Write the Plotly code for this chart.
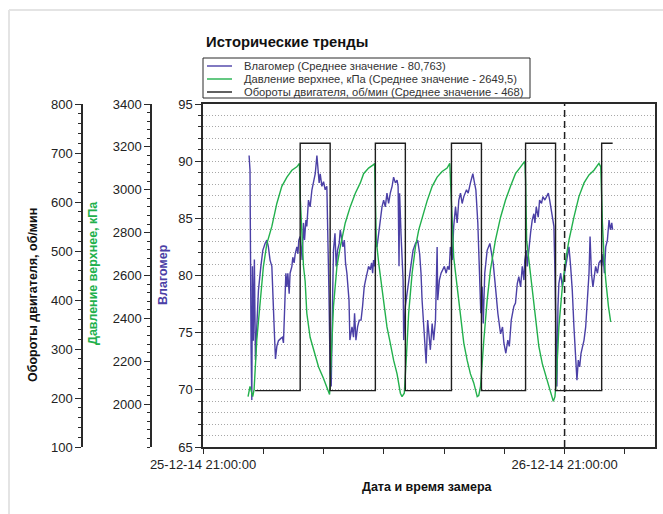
import pandas as pd
import plotly.graph_objects as go

# ---------------- data ----------------
BASE = pd.Timestamp("2014-12-25 21:00:00")   # start of the x range
X_SPAN_H = 30                                 # hours shown on x axis
MARK_H = 24                                   # dashed marker: 26-12-14 21:00:00

# Влагомер (hours from BASE, value)
moist_h = [3.06, 3.12, 3.19, 3.24, 3.28, 3.34, 3.41, 3.48, 3.57, 3.68, 3.84, 3.97, 4.12, 4.24, 4.34,
           4.45, 4.57, 4.63, 4.67, 4.74, 4.81, 4.90, 5.01, 5.17, 5.27, 5.34, 5.41, 5.50, 5.57, 5.63,
           5.72, 5.78, 5.90, 5.96, 6.05, 6.12, 6.23, 6.30, 6.36, 6.45, 6.52, 6.58, 6.67, 6.74, 6.83,
           6.89, 7.00, 7.11, 7.23, 7.33, 7.45, 7.56, 7.63, 7.71, 7.78, 7.89, 8.00, 8.11, 8.22, 8.29,
           8.36, 8.44, 8.51, 8.61, 8.66, 8.76, 8.84, 8.93, 9.04, 9.11, 9.20, 9.29, 9.38, 9.46, 9.55,
           9.62, 9.69, 9.75, 9.82, 9.89, 9.99, 10.06, 10.15, 10.26, 10.37, 10.49, 10.59, 10.70, 10.79,
           10.88, 10.99, 11.10, 11.19, 11.26, 11.32, 11.39, 11.46, 11.55, 11.66, 11.77, 11.88, 11.99,
           12.10, 12.21, 12.32, 12.43, 12.55, 12.65, 12.77, 12.88, 12.95, 13.01, 13.05, 13.14, 13.21,
           13.28, 13.32, 13.43, 13.54, 13.68, 13.81, 13.94, 14.10, 14.25, 14.38, 14.47, 14.54, 14.65,
           14.81, 14.91, 15.09, 15.21, 15.31, 15.43, 15.54, 15.58, 15.69, 15.80, 15.91, 16.02, 16.14,
           16.24, 16.34, 16.42, 16.54, 16.64, 16.76, 16.87, 16.98, 17.09, 17.20, 17.31, 17.49, 17.60,
           17.75, 17.91, 18.02, 18.11, 18.24, 18.35, 18.44, 18.53, 18.60, 18.70, 18.86, 19.04, 19.17,
           19.26, 19.41, 19.57, 19.75, 19.88, 19.97, 20.10, 20.23, 20.33, 20.46, 20.63, 20.74, 20.86,
           20.96, 21.08, 21.19, 21.30, 21.36, 21.46, 21.52, 21.63, 21.74, 21.85, 21.96, 22.03, 22.12,
           22.25, 22.34, 22.47, 22.56, 22.69, 22.81, 22.92, 23.01, 23.09, 23.18, 23.29, 23.36, 23.40,
           23.45, 23.49, 23.56, 23.62, 23.74, 23.85, 23.96, 24.07, 24.18, 24.29, 24.40, 24.51, 24.62,
           24.73, 24.82, 24.91, 25.00, 25.09, 25.18, 25.29, 25.40, 25.51, 25.62, 25.69, 25.78, 25.88,
           25.98, 26.06, 26.18, 26.28, 26.40, 26.46, 26.55, 26.64, 26.73, 26.84, 26.95, 27.04, 27.13,
           27.19]
moist = [90.5, 89.2, 73.8, 69.1, 80.8, 74.3, 81.4, 72.6, 75.5, 78.7, 80.8, 82.2, 82.8, 83.1, 82.5,
         81.35, 80.8, 79.3, 77.3, 74.9, 72.7, 73.8, 74.3, 74.5, 74.6, 74.1, 77.3, 80.2, 79.0, 80.2,
         78.4, 80.2, 80.8, 81.6, 81.1, 81.9, 82.5, 81.9, 83.1, 83.4, 82.5, 81.35, 84.6, 83.1, 84.85,
         84.3, 86.6, 86.0, 87.5, 88.1, 88.9, 90.5, 89.2, 88.1, 88.9, 87.8, 88.2, 87.5, 87.8, 80.8,
         78.4, 71.4, 70.3, 78.7, 82.2, 83.7, 80.8, 82.2, 82.8, 84.0, 83.4, 82.5, 83.1, 81.1, 80.2,
         79.0, 77.85, 74.35, 74.9, 75.5, 74.6, 76.7, 74.35, 75.5, 76.1, 76.1, 77.3, 79.0, 79.6,
         80.2, 80.8, 80.5, 81.1, 80.2, 81.35, 80.8, 82.8, 82.5, 83.7, 84.85, 86.0, 86.6,
         86.0, 87.2, 86.3, 87.2, 87.8, 88.6, 88.1, 88.35, 87.8, 80.8, 87.2, 83.7, 81.6,
         79.6, 74.35, 77.3, 78.4, 79.6, 81.1, 82.2, 82.8, 83.1, 81.9, 80.2, 77.85, 75.5,
         72.3, 76.1, 73.5, 75.8, 74.35, 76.1, 82.5, 77.85, 79.6, 80.2, 80.5, 80.8, 80.2,
         80.8, 80.5, 82.5, 81.35, 84.3, 86.0, 84.6, 86.6, 87.2, 86.3, 86.9, 87.5, 87.2,
         88.1, 88.9, 88.1, 87.5, 84.6, 80.8, 76.7, 79.0, 75.8, 80.2, 82.2, 82.8, 81.9,
         81.1, 79.0, 76.7, 74.9, 75.5, 74.1, 73.2, 74.35, 73.8, 76.1, 77.3, 77.6, 79.3,
         79.9, 79.0, 80.8, 79.6, 81.35, 82.2, 80.8, 82.5, 83.7, 84.85, 85.4, 84.6, 86.0,
         85.1, 86.6, 86.3, 86.9, 86.6, 87.0, 87.2, 86.6, 86.0, 85.1, 84.3, 80.2, 75.8,
         71.4, 70.3, 77.3, 79.3, 80.2, 79.0, 79.9, 80.8, 81.9, 82.5, 80.8, 78.7, 75.5,
         73.2, 70.85, 72.6, 72.0, 73.2, 73.8, 74.35, 75.5, 77.85, 80.2, 83.4, 80.2, 79.0,
         79.9, 80.8, 80.2, 81.1, 81.35, 80.8, 81.9, 80.2, 82.5, 83.1, 84.85, 84.0, 84.6,
         84.0]

# Давление верхнее, кПа
press_h = [2.99, 3.12, 3.30, 3.39, 3.57, 3.79, 4.01, 4.24, 4.57, 4.90, 5.23, 5.57, 5.90, 6.23, 6.40,
           6.45, 6.56, 6.67, 6.78, 6.89, 7.11, 7.33, 7.67, 8.00, 8.26, 8.40,
           8.44, 8.56, 8.66, 8.89, 9.11, 9.44, 9.77, 10.11, 10.44, 10.66, 10.99, 11.32, 11.39,
           11.44, 11.50, 11.66, 11.77, 11.99, 12.21, 12.43, 12.65, 12.88, 13.10, 13.21, 13.36,
           13.50, 13.65, 13.88, 14.10, 14.32, 14.54, 14.87, 15.21, 15.54, 15.87, 16.20, 16.38,
           16.47, 16.54, 16.64, 16.87, 17.09, 17.31, 17.53, 17.75, 17.97, 18.20, 18.30, 18.42,
           18.64, 18.86, 19.08, 19.41, 19.75, 20.08, 20.41, 20.74, 21.08, 21.36,
           21.41, 21.48, 21.63, 21.85, 22.07, 22.29, 22.52, 22.85, 23.07, 23.25, 23.36, 23.45,
           23.62, 23.85, 24.07, 24.29, 24.62, 24.95, 25.29, 25.62, 25.95, 26.28, 26.40,
           26.44, 26.51, 26.62, 26.73, 26.91, 27.06]
press = [2035, 2083, 2035, 2067, 2299, 2485, 2643, 2749, 2829, 2936, 3016, 3059, 3091, 3107, 3123,
         2968, 2765, 2643, 2573, 2424, 2312, 2253, 2173, 2120, 2067, 2045,
         2099, 2269, 2456, 2643, 2733, 2845, 2920, 2984, 3032, 3075, 3101, 3117, 3123,
         2952, 2765, 2659, 2595, 2485, 2360, 2285, 2205, 2141, 2051, 2035, 2051,
         2221, 2424, 2611, 2733, 2813, 2872, 2947, 3016, 3059, 3085, 3101, 3123,
         2968, 2829, 2685, 2547, 2424, 2285, 2205, 2141, 2099, 2035, 2040, 2083,
         2299, 2485, 2627, 2765, 2872, 2952, 3016, 3075, 3107, 3133,
         3045, 2765, 2672, 2531, 2392, 2269, 2189, 2112, 2067, 2013, 2035, 2112,
         2360, 2547, 2672, 2765, 2872, 2968, 3032, 3069, 3091, 3123, 3107,
         3000, 2845, 2685, 2579, 2456, 2384]

# Обороты двигателя, об/мин (step changes)
rpm_h = [3.46, 6.45, 8.44, 11.44, 13.43, 16.49, 18.48, 21.41, 23.40, 26.46, 27.19]
rpm = [215, 720, 215, 720, 215, 720, 215, 720, 215, 720, 720]

legend_texts = ["Влагомер (Среднее значение - 80,763)",
                "Давление верхнее, кПа (Среднее значение - 2649,5)",
                "Обороты двигателя, об/мин (Среднее значение - 468)"]
title_text = "Исторические тренды"
x_title = "Дата и время замера"
y_titles = ["Влагомер", "Давление верхнее, кПа", "Обороты двигателя, об/мин"]

moist_range = [65, 95]
press_range = [1800, 3400]
press_ticks = [2000, 2200, 2400, 2600, 2800, 3000, 3200, 3400]
rpm_range = [100, 800]

# ---------------- styling ----------------
C_BLUE = "#4b40a6"
C_GREEN = "#22b04c"
C_BLACK = "#1e1e1e"
C_AX = "#2a2a2a"
FONT = "Liberation Sans, Arial, sans-serif"
GRID = "#a8a8a8"

W, H = 663, 514
ML, MR, MT, MB = 0, 8, 104, 67
PW = W - ML - MR          # paper width in px
PH = H - MT - MB          # paper height in px
PLOT_L = 203


def px(xp):
    return (xp - ML) / PW


def py(yp):
    return (H - MB - yp) / PH


def ts(hours):
    return BASE + pd.to_timedelta(pd.Series(hours), unit="h")


fig = go.Figure()

fig.add_trace(go.Scatter(x=ts(moist_h), y=moist, mode="lines", yaxis="y",
                         line=dict(color=C_BLUE, width=1.4), showlegend=False, name=legend_texts[0]))
fig.add_trace(go.Scatter(x=ts(press_h), y=press, mode="lines", yaxis="y2",
                         line=dict(color=C_GREEN, width=1.4), showlegend=False, name=legend_texts[1]))
fig.add_trace(go.Scatter(x=ts(rpm_h), y=rpm, mode="lines", yaxis="y3", line_shape="hv",
                         line=dict(color=C_BLACK, width=1.4), showlegend=False, name=legend_texts[2]))

x0 = BASE
x1 = BASE + pd.Timedelta(hours=X_SPAN_H)
tickfont = dict(family=FONT, size=13, color="#222222")

fig.update_layout(
    width=W, height=H,
    margin=dict(l=ML, r=MR, t=MT, b=MB, pad=0, autoexpand=False),
    paper_bgcolor="white", plot_bgcolor="white",
    font=dict(family=FONT, color="#222222"),
    showlegend=False,
    xaxis=dict(
        type="date", domain=[px(PLOT_L), 1], range=[x0, x1], automargin=False,
        tick0=x0, dtick=24 * 3600 * 1000, tickformat="%d-%m-%y %H:%M:%S",
        ticks="outside", ticklen=5, tickwidth=1.2, tickcolor=C_AX,
        minor=dict(tick0=x0, dtick=4 * 3600 * 1000, ticks="outside", ticklen=5,
                   tickwidth=1.2, tickcolor=C_AX, showgrid=False),
        showline=True, linecolor=C_AX, linewidth=1.5, mirror=True,
        showgrid=False, zeroline=False, tickfont=tickfont, anchor="y",
    ),
    xaxis2=dict(
        type="date", overlaying="x", side="top", anchor="y", range=[x0, x1], automargin=False,
        tick0=x0, dtick=4 * 3600 * 1000, ticks="inside", ticklen=5, tickwidth=1.2,
        tickcolor=C_AX, showticklabels=False, showgrid=False, showline=False, zeroline=False,
    ),
    yaxis=dict(
        domain=[0, 1], range=moist_range, dtick=5, anchor="x", side="left", automargin=False,
        ticks="outside", ticklen=6, tickwidth=1.2, tickcolor=C_AX,
        showgrid=True, gridcolor=GRID, griddash="1px,2px", gridwidth=1,
        minor=dict(dtick=1, ticks="outside", ticklen=3, tickwidth=1, tickcolor=C_AX,
                   showgrid=True, gridcolor=GRID, griddash="1px,2px", gridwidth=1),
        showline=True, linecolor=C_AX, linewidth=1.5, mirror=True,
        zeroline=False, tickfont=tickfont,
    ),
    yaxis2=dict(
        overlaying="y", anchor="free", position=px(151), side="left", range=press_range,
        automargin=False, autoshift=False,
        tickmode="array", tickvals=press_ticks,
        ticks="outside", ticklen=6, tickwidth=1.2, tickcolor=C_AX,
        minor=dict(tickmode="linear", tick0=press_range[0], dtick=40, ticks="outside",
                   ticklen=3, tickwidth=1, tickcolor=C_AX, showgrid=False),
        showline=True, linecolor=C_AX, linewidth=1.5, showgrid=False, zeroline=False,
        tickfont=tickfont,
    ),
    yaxis3=dict(
        overlaying="y", anchor="free", position=px(82), side="left", range=rpm_range,
        automargin=False, autoshift=False,
        dtick=100, ticks="outside", ticklen=6, tickwidth=1.2, tickcolor=C_AX,
        minor=dict(dtick=20, ticks="outside", ticklen=3, tickwidth=1, tickcolor=C_AX,
                   showgrid=False),
        showline=True, linecolor=C_AX, linewidth=1.5, showgrid=False, zeroline=False,
        tickfont=tickfont,
    ),
)

shapes = []
annotations = []

# dashed marker line at 26-12-14 21:00:00
shapes.append(dict(type="line", xref="x", yref="paper",
                   x0=BASE + pd.Timedelta(hours=MARK_H), x1=BASE + pd.Timedelta(hours=MARK_H),
                   y0=0, y1=1, line=dict(color=C_BLACK, width=1.5, dash="7px,4px")))

# page frame (light grey)
shapes.append(dict(type="line", xref="paper", yref="paper", x0=px(9), x1=px(9),
                   y0=py(10), y1=py(H), line=dict(color="#e4e4e4", width=2)))
shapes.append(dict(type="line", xref="paper", yref="paper", x0=px(9), x1=px(W),
                   y0=py(10), y1=py(10), line=dict(color="#e4e4e4", width=2)))

# manual legend
shapes.append(dict(type="rect", xref="paper", yref="paper", x0=px(203), x1=px(530),
                   y0=py(98), y1=py(58), line=dict(color=C_AX, width=1), fillcolor="white"))
leg_rows = [66, 79, 92]
leg_cols = [C_BLUE, C_GREEN, C_BLACK]
for row, col, txt in zip(leg_rows, leg_cols, legend_texts):
    shapes.append(dict(type="line", xref="paper", yref="paper", x0=px(207), x1=px(232),
                       y0=py(row), y1=py(row), line=dict(color=col, width=1.4)))
    annotations.append(dict(xref="paper", yref="paper", x=px(242), y=py(row), text=txt,
                            showarrow=False, xanchor="left", yanchor="middle",
                            font=dict(family=FONT, size=11.2, color="#333333")))

# title
annotations.append(dict(xref="paper", yref="paper", x=px(204), y=py(42), text="<b>%s</b>" % title_text,
                        showarrow=False, xanchor="left", yanchor="middle",
                        font=dict(family=FONT, size=14.8, color="#111111")))
# axis titles
annotations.append(dict(xref="paper", yref="paper", x=px(428), y=py(487), text="<b>%s</b>" % x_title,
                        showarrow=False, xanchor="center", yanchor="middle",
                        font=dict(family=FONT, size=12.5, color="#111111")))
annotations.append(dict(xref="paper", yref="paper", x=px(163), y=py(275), text="<b>%s</b>" % y_titles[0],
                        showarrow=False, textangle=-90, xanchor="center", yanchor="middle",
                        font=dict(family=FONT, size=12.5, color=C_BLUE)))
annotations.append(dict(xref="paper", yref="paper", x=px(93), y=py(273), text="<b>%s</b>" % y_titles[1],
                        showarrow=False, textangle=-90, xanchor="center", yanchor="middle",
                        font=dict(family=FONT, size=12.5, color=C_GREEN)))
annotations.append(dict(xref="paper", yref="paper", x=px(33), y=py(295), text="<b>%s</b>" % y_titles[2],
                        showarrow=False, textangle=-90, xanchor="center", yanchor="middle",
                        font=dict(family=FONT, size=12.5, color="#111111")))

fig.update_layout(shapes=shapes, annotations=annotations)
fig.write_html("out.html")
